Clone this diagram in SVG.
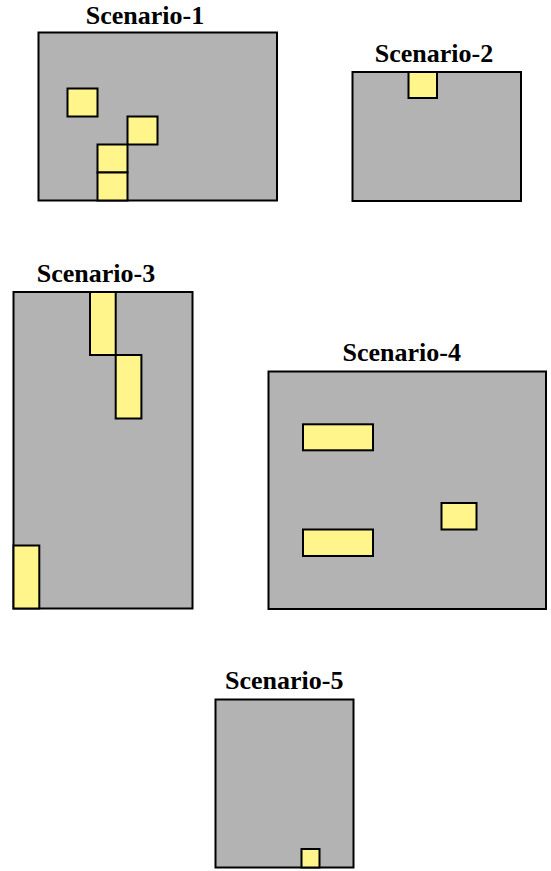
<svg xmlns="http://www.w3.org/2000/svg" width="551" height="871" viewBox="0 0 551 871">
<style>
.bg{fill:#fff}
.area{fill:#b3b3b3;stroke:#000;stroke-width:2}
.blk{fill:#fff58a;stroke:#000;stroke-width:2}
.title{font-family:"Liberation Serif","Times New Roman",serif;font-weight:bold;font-size:26px;fill:#000;text-anchor:middle}
</style>
<rect class="bg" x="0" y="0" width="551" height="871"/>
<g id="scenario-1">
<text class="title" x="145" y="24">Scenario-1</text>
<rect class="area" x="38.5" y="32.5" width="238.5" height="168"/>
<rect class="blk" x="67.5" y="88.5" width="30" height="28"/>
<rect class="blk" x="127.5" y="116.5" width="30" height="28"/>
<rect class="blk" x="97.5" y="144.5" width="30" height="28"/>
<rect class="blk" x="97.5" y="172.5" width="30" height="28"/>
</g>
<g id="scenario-2">
<text class="title" x="434" y="62">Scenario-2</text>
<rect class="area" x="352.5" y="72" width="168.5" height="129"/>
<rect class="blk" x="408.5" y="72" width="28.5" height="26"/>
</g>
<g id="scenario-3">
<text class="title" x="96" y="282">Scenario-3</text>
<rect class="area" x="13.5" y="292" width="179" height="316.5"/>
<rect class="blk" x="90" y="292" width="25.7" height="63"/>
<rect class="blk" x="115.7" y="355" width="25.7" height="63.5"/>
<rect class="blk" x="13.5" y="545.5" width="25.8" height="63"/>
</g>
<g id="scenario-4">
<text class="title" x="401.7" y="361">Scenario-4</text>
<rect class="area" x="268.5" y="371.5" width="277.5" height="237.5"/>
<rect class="blk" x="303" y="424.3" width="70" height="26"/>
<rect class="blk" x="303" y="529.5" width="70" height="26.5"/>
<rect class="blk" x="441.5" y="503" width="35" height="26.5"/>
</g>
<g id="scenario-5">
<text class="title" x="284.3" y="689">Scenario-5</text>
<rect class="area" x="215.5" y="699.5" width="138" height="168"/>
<rect class="blk" x="301.5" y="849" width="18" height="18.5"/>
</g>
</svg>
